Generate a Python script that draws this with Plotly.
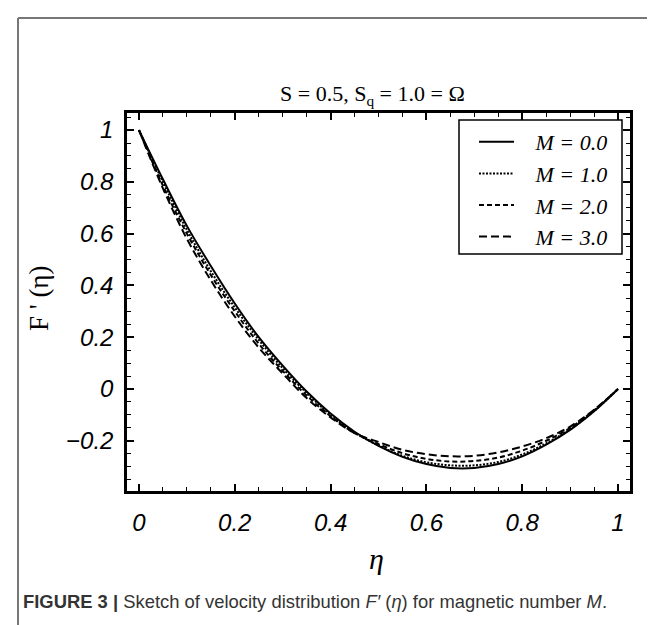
import plotly.graph_objects as go

eta = [0.0, 0.05, 0.1, 0.15, 0.2, 0.25, 0.3, 0.35, 0.4, 0.45, 0.5,
       0.55, 0.6, 0.65, 0.7, 0.75, 0.8, 0.85, 0.9, 0.95, 1.0]
F_M0 = [1.0, 0.81, 0.63, 0.475, 0.33, 0.20, 0.09, -0.01, -0.095, -0.165, -0.22,
        -0.262, -0.29, -0.305, -0.305, -0.29, -0.26, -0.215, -0.158, -0.086, 0.0]
F_M1 = [1.0, 0.80, 0.615, 0.455, 0.315, 0.19, 0.08, -0.015, -0.10, -0.168, -0.218,
        -0.258, -0.283, -0.295, -0.295, -0.282, -0.253, -0.21, -0.155, -0.085, 0.0]
F_M2 = [1.0, 0.785, 0.60, 0.44, 0.30, 0.175, 0.07, -0.025, -0.105, -0.17, -0.213,
        -0.248, -0.27, -0.28, -0.278, -0.265, -0.238, -0.20, -0.15, -0.082, 0.0]
F_M3 = [1.0, 0.775, 0.58, 0.42, 0.28, 0.16, 0.06, -0.035, -0.11, -0.17, -0.205,
        -0.235, -0.252, -0.26, -0.258, -0.245, -0.222, -0.19, -0.145, -0.08, 0.0]
series_names = ["M = 0.0", "M = 1.0", "M = 2.0", "M = 3.0"]
series_vals = [F_M0, F_M1, F_M2, F_M3]
dashes = ["solid", "2px,1.5px", "5px,3px", "8px,4px"]

x_ticks = [0, 0.2, 0.4, 0.6, 0.8, 1]
x_ticklabels = ["0", "0.2", "0.4", "0.6", "0.8", "1"]
y_ticks = [-0.2, 0, 0.2, 0.4, 0.6, 0.8, 1]
y_ticklabels = ["-0.2", "0", "0.2", "0.4", "0.6", "0.8", "1"]

W, H = 655, 625
L, R, T, B = 119, 33, 105, 142
PW, PH = W - L - R, H - T - B


def px(x):
    return (x - L) / PW


def py(y):
    return (H - B - y) / PH


fig = go.Figure()
for name, vals, d in zip(series_names, series_vals, dashes):
    fig.add_trace(go.Scatter(x=eta, y=vals, mode="lines",
                             name="&nbsp;&nbsp;&nbsp;" + name,
                             line=dict(color="black", width=2, dash=d, shape="spline")))

tickfont = dict(family="Liberation Sans Narrow, Liberation Sans, Arial", size=24,
                color="black", style="italic")
axis_common = dict(showline=True, linecolor="black", linewidth=2.5, mirror="allticks",
                   ticks="inside", ticklen=7, tickwidth=1.5, tickcolor="black",
                   showgrid=False, zeroline=False, tickfont=tickfont,
                   minor=dict(dtick=0.05, ticks="inside", ticklen=4, tickwidth=1,
                              tickcolor="black", showgrid=False))

fig.update_xaxes(range=[-0.025, 1.025], tickvals=x_ticks, ticktext=x_ticklabels,
                 ticklabelstandoff=8, **axis_common)
fig.update_yaxes(range=[-0.394, 1.066], tickvals=y_ticks,
                 ticktext=[t.replace("-", "\u2212") for t in y_ticklabels],
                 ticklabelstandoff=6, **axis_common)

serif = "Liberation Serif, Times New Roman, serif"
fig.add_annotation(x=px(364), y=py(87), xref="paper", yref="paper",
                   xanchor="center", yanchor="middle",
                   text="S = 0.5, S<sub>q</sub> = 1.0 = \u03a9", showarrow=False,
                   font=dict(family=serif, size=22, color="black"))
fig.add_annotation(x=px(31), y=py(291), xref="paper", yref="paper",
                   xanchor="center", yanchor="middle",
                   text="F ' (\u03b7)", textangle=-90, showarrow=False,
                   font=dict(family=serif, size=27, color="black"))
fig.add_annotation(x=px(368), y=py(550), xref="paper", yref="paper",
                   xanchor="center", yanchor="middle",
                   text="<i>\u03b7</i>", showarrow=False,
                   font=dict(family=serif, size=30, color="black"))
fig.add_annotation(x=px(13), y=py(593), xref="paper", yref="paper",
                   xanchor="left", yanchor="middle",
                   text="<b>FIGURE 3 |</b> Sketch of velocity distribution <i>F\u2032</i> (<i>\u03b7</i>) for magnetic number <i>M</i>.",
                   showarrow=False,
                   font=dict(family="Liberation Sans, Arial", size=18.4, color="#333333"))

# page frame lines (top and left)
fig.add_shape(type="line", xref="paper", yref="paper", x0=px(10), x1=px(660),
              y0=py(10), y1=py(10), line=dict(color="#777777", width=2))
fig.add_shape(type="line", xref="paper", yref="paper", x0=px(10), x1=px(10),
              y0=py(10), y1=py(630), line=dict(color="#777777", width=2))

# legend box
fig.add_shape(type="rect", xref="paper", yref="paper", x0=px(451), x1=px(614),
              y0=py(112), y1=py(246), line=dict(color="black", width=1.5),
              fillcolor="white", layer="below")

fig.update_layout(
    width=W, height=H, margin=dict(l=L, r=R, t=T, b=B),
    paper_bgcolor="white", plot_bgcolor="rgba(0,0,0,0)",
    showlegend=True,
    legend=dict(x=px(466), y=py(113), xanchor="left", yanchor="top",
                bgcolor="rgba(0,0,0,0)", borderwidth=0,
                font=dict(family=serif, size=22, color="black", style="italic"),
                itemwidth=35, tracegroupgap=0),
)

fig.write_html("out.html")
